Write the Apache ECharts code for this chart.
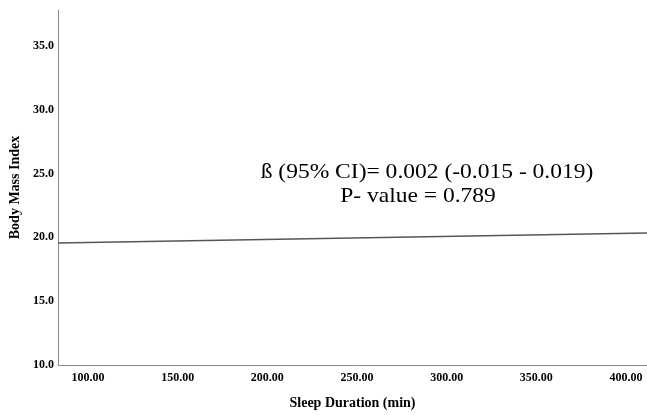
<!DOCTYPE html>
<html><head><meta charset="utf-8">
<script src="https://cdn.jsdelivr.net/npm/echarts@6/dist/echarts.min.js"></script>
<style>html,body{margin:0;padding:0;background:#fff}#c{width:647px;height:415px}</style>
</head><body><div id="c"></div>
<script>
// Fit line endpoints (sleep duration in min, BMI)
var sleepDuration = [83.3, 411.7];
var bmiFit = [19.56, 20.33];
var xRange = [83.3, 411.7];
var yRange = [10, 37.8];
var annotationLines = ['ß (95% CI)= 0.002 (-0.015 - 0.019)', 'P- value = 0.789'];

var chart = echarts.init(document.getElementById('c'), null, {renderer: 'canvas'});
var serif = '"Liberation Serif", "Times New Roman", serif';
var annoStyle = {fontFamily: serif, fontSize: 21, fill: '#000', align: 'center', verticalAlign: 'top'};
chart.setOption({
  animation: false,
  grid: {left: 58, right: 0, top: 10, bottom: 47, containLabel: false},
  xAxis: {
    type: 'value', min: xRange[0], max: xRange[1], splitNumber: 6,
    name: 'Sleep Duration (min)', nameLocation: 'middle', nameGap: 31,
    nameTextStyle: {fontFamily: serif, fontWeight: 'bold', fontSize: 14, color: '#000'},
    axisLine: {show: true, lineStyle: {color: '#888', width: 1}},
    axisTick: {show: false}, splitLine: {show: false},
    axisLabel: {showMinLabel: false, showMaxLabel: false, margin: 7,
      fontFamily: serif, fontWeight: 'bold', fontSize: 12, color: '#000',
      formatter: function (v) { return v.toFixed(2); }}
  },
  yAxis: {
    type: 'value', min: yRange[0], max: yRange[1], splitNumber: 5,
    name: 'Body Mass Index', nameLocation: 'middle', nameGap: 35,
    nameTextStyle: {fontFamily: serif, fontWeight: 'bold', fontSize: 14, color: '#000'},
    axisLine: {show: true, lineStyle: {color: '#888', width: 1}},
    axisTick: {show: false}, splitLine: {show: false},
    axisLabel: {showMaxLabel: false, margin: 4,
      fontFamily: serif, fontWeight: 'bold', fontSize: 12, color: '#000',
      formatter: function (v) { return v.toFixed(1); }}
  },
  graphic: [
    {type: 'text', x: 427, y: 162, scaleX: 1.12,
     style: Object.assign({text: annotationLines[0]}, annoStyle)},
    {type: 'text', x: 418, y: 186, scaleX: 1.12,
     style: Object.assign({text: annotationLines[1]}, annoStyle)}
  ],
  series: [{
    type: 'line', symbol: 'none',
    data: sleepDuration.map(function (x, i) { return [x, bmiFit[i]]; }),
    lineStyle: {color: '#555', width: 1.5}
  }]
});
</script></body></html>
